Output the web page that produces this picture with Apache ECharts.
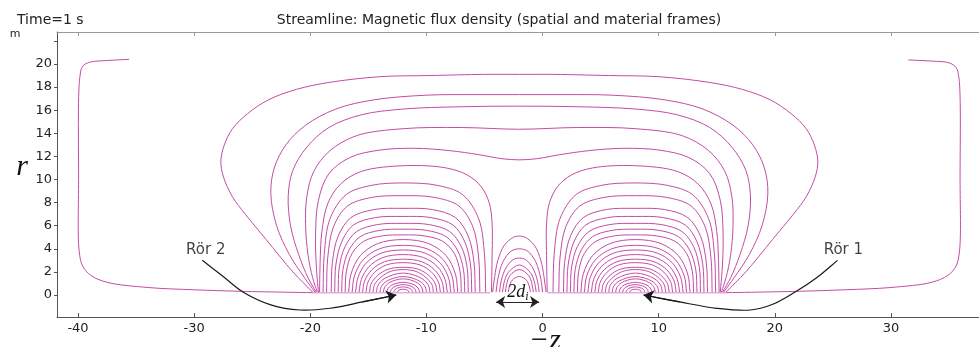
<!DOCTYPE html>
<html><head><meta charset="utf-8">
<script src="https://cdn.jsdelivr.net/npm/echarts@6/dist/echarts.min.js"></script>
<style>html,body{margin:0;padding:0;background:#fff}#c{width:979px;height:347px}</style>
</head><body><div id="c"></div>
<script>
const zTicks = [-40,-30,-20,-10,0,10,20,30];
const rTicks = [0,2,4,6,8,10,12,14,16,18,20,22];
const rLabels = [0,2,4,6,8,10,12,14,16,18,20];

const outerLines = [
 [[-35.6,20.4],[-37.5,20.3],[-39.0,20.15],[-39.6,19.8],[-39.85,18.8],[-39.95,10],[-39.9,3.8],[-39.6,2.5],[-38.9,1.7],[-37.5,1.1],[-34,0.65],[-30,0.45],[-26,0.32],[-22,0.24],[-19.8,0.2]],
 [[31.5,20.35],[33.5,20.25],[35.0,20.1],[35.6,19.7],[35.85,18.8],[35.95,10],[35.9,3.8],[35.6,2.5],[34.9,1.7],[33.5,1.1],[30,0.65],[26,0.45],[22,0.32],[18,0.24],[15.8,0.2]]
];

const enclosingLoops = [
 [[-19.8,0.25],[-21.5,2.0],[-23.8,4.8],[-25.6,7],[-26.7,8.5],[-27.5,10.3],[-27.7,11.6],[-27.4,13.0],[-26.7,14.4],[-25.4,15.7],[-23.6,16.9],[-21.2,17.8],[-18.4,18.4],[-14,18.9],[-9.7,19.0],[-5,19.1],[-2,19.1],[1,19.1],[5.7,19.0],[10,18.9],[14.4,18.4],[17.2,17.8],[19.6,16.9],[21.4,15.7],[22.7,14.4],[23.4,13.0],[23.7,11.6],[23.5,10.3],[22.7,8.5],[21.6,7],[19.8,4.8],[17.5,2.0],[15.8,0.25]],
 [[-19.6,0.25],[-20.5,1.5],[-21.8,3.5],[-22.9,6],[-23.4,8.8],[-23.1,11],[-22.1,13],[-20.4,14.7],[-17.8,16.1],[-14.5,16.9],[-10,17.3],[-6,17.35],[-2,17.35],[2,17.35],[6,17.3],[10.5,16.9],[13.8,16.1],[16.4,14.7],[18.1,13],[19.1,11],[19.4,8.8],[18.9,6],[17.8,3.5],[16.5,1.5],[15.6,0.25]],
 [[-19.5,0.25],[-20.2,1.5],[-21.0,3.5],[-21.7,6],[-21.9,8.6],[-21.5,10.8],[-20.3,12.8],[-18.4,14.5],[-15.6,15.6],[-12,16.1],[-7,16.3],[-2,16.35],[3,16.3],[8,16.1],[11.6,15.6],[14.4,14.5],[16.3,12.8],[17.5,10.8],[17.9,8.6],[17.7,6],[17.0,3.5],[16.2,1.5],[15.5,0.25]],
 [[-19.4,0.25],[-19.8,1.5],[-20.2,3.5],[-20.4,6],[-20.3,8.5],[-19.7,10.7],[-18.3,12.5],[-16,13.8],[-12,14.4],[-7,14.5],[-2,14.35],[3,14.5],[8,14.4],[12,13.8],[14.3,12.5],[15.7,10.7],[16.3,8.5],[16.4,6],[16.2,3.5],[15.8,1.5],[15.4,0.25]],
 [[-19.3,0.25],[-19.45,2],[-19.55,5],[-19.3,8.2],[-18.4,10.5],[-16.6,11.9],[-14,12.55],[-11,12.7],[-8,12.5],[-5.5,12.15],[-3.5,11.8],[-2,11.7],[-0.5,11.8],[1.5,12.15],[4,12.5],[7,12.7],[10,12.55],[12.6,11.9],[14.4,10.5],[15.3,8.2],[15.55,5],[15.45,2],[15.3,0.25]]
];

const leftCoilArches = [
 [[-19.2,0.25],[-19.15,3],[-19.0,5.5],[-18.5,7.9],[-17.4,9.6],[-15.6,10.7],[-11.8,11.2],[-8.3,11.0],[-6.5,10.4],[-5.3,9.4],[-4.6,8.0],[-4.35,6.3],[-4.35,3],[-4.4,0.25]],
 [[-18.9,0.25],[-18.8,3.5],[-18.3,6.6],[-16.9,8.7],[-14.7,9.5],[-11.9,9.7],[-9.1,9.5],[-6.9,8.7],[-5.5,6.6],[-5.0,3.5],[-4.9,0.25]],
 [[-18.6,0.25],[-18.5,3.2],[-18.0,5.9],[-16.8,7.7],[-14.7,8.45],[-12,8.6],[-9.3,8.45],[-7.2,7.7],[-6.0,5.9],[-5.5,3.2],[-5.4,0.25]],
 [[-18.2,0.25],[-18.1,2.8],[-17.6,5.1],[-16.5,6.7],[-14.5,7.4],[-12,7.5],[-9.5,7.4],[-7.5,6.7],[-6.4,5.1],[-5.9,2.8],[-5.8,0.25]],
 [[-17.9,0.25],[-17.8,2.6],[-17.3,4.6],[-16.3,6.05],[-14.4,6.7],[-12,6.8],[-9.6,6.7],[-7.7,6.05],[-6.7,4.6],[-6.2,2.6],[-6.1,0.25]],
 [[-17.6,0.25],[-17.5,2.4],[-17.0,4.2],[-16.0,5.5],[-14.2,6.1],[-12,6.2],[-9.8,6.1],[-8.0,5.5],[-7.0,4.2],[-6.5,2.4],[-6.4,0.25]],
 [[-17.3,0.25],[-17.19,2.2],[-16.66,3.9],[-15.7,5.05],[-14.0,5.6],[-12,5.7],[-10.0,5.6],[-8.3,5.05],[-7.34,3.9],[-6.81,2.2],[-6.7,0.25]],
 [[-17,0.25],[-16.9,2.0],[-16.4,3.6],[-15.4,4.65],[-13.8,5.12],[-12,5.2],[-10.2,5.12],[-8.6,4.65],[-7.6,3.6],[-7.1,2.0],[-7,0.25]],
 [[-16.7,0.25],[-16.5,1.8],[-15.7,3.4],[-14.2,4.45],[-12,4.8],[-9.8,4.45],[-8.3,3.4],[-7.5,1.8],[-7.3,0.25]],
 [[-16.4,0.25],[-16.2,1.65],[-15.45,3.05],[-14.05,4.0],[-12,4.3],[-9.95,4.0],[-8.55,3.05],[-7.8,1.65],[-7.6,0.25]],
 [[-16.1,0.25],[-15.9,1.5],[-15.2,2.75],[-13.9,3.62],[-12,3.9],[-10.1,3.62],[-8.8,2.75],[-8.1,1.5],[-7.9,0.25]],
 [[-15.8,0.25],[-15.6,1.35],[-14.95,2.45],[-13.75,3.24],[-12,3.5],[-10.25,3.24],[-9.05,2.45],[-8.4,1.35],[-8.2,0.25]],
 [[-15.5,0.25],[-15.33,1.2],[-14.7,2.18],[-13.6,2.88],[-12,3.1],[-10.4,2.88],[-9.3,2.18],[-8.67,1.2],[-8.5,0.25]],
 [[-15.2,0.25],[-15.04,1.1],[-14.45,1.97],[-13.45,2.6],[-12,2.8],[-10.55,2.6],[-9.55,1.97],[-8.96,1.1],[-8.8,0.25]],
 [[-14.9,0.25],[-14.76,0.98],[-14.2,1.7],[-13.3,2.23],[-12,2.4],[-10.7,2.23],[-9.8,1.7],[-9.24,0.98],[-9.1,0.25]],
 [[-14.6,0.25],[-14.47,0.9],[-13.9,1.56],[-13.1,2.04],[-12,2.2],[-10.9,2.04],[-10.1,1.56],[-9.53,0.9],[-9.4,0.25]],
 [[-14.3,0.25],[-14.19,0.8],[-13.63,1.41],[-12,1.9],[-10.37,1.41],[-9.81,0.8],[-9.7,0.25]],
 [[-14,0.25],[-13.9,0.7],[-13.42,1.2],[-12,1.6],[-10.58,1.2],[-10.1,0.7],[-10,0.25]],
 [[-13.7,0.25],[-13.62,0.62],[-13.21,1.06],[-12,1.4],[-10.79,1.06],[-10.38,0.62],[-10.3,0.25]],
 [[-13.4,0.25],[-13.33,0.52],[-12.99,0.85],[-12,1.1],[-11.01,0.85],[-10.67,0.52],[-10.6,0.25]],
 [[-13.1,0.25],[-13.05,0.45],[-12.78,0.71],[-12,0.9],[-11.22,0.71],[-10.95,0.45],[-10.9,0.25]],
 [[-12.8,0.25],[-12.76,0.39],[-12.57,0.57],[-12,0.7],[-11.43,0.57],[-11.24,0.39],[-11.2,0.25]],
 [[-12.5,0.25],[-12.36,0.43],[-12,0.5],[-11.64,0.43],[-11.5,0.25]]
];

const rightCoilArches = [
 [[0.4,0.25],[0.35,3],[0.35,6.3],[0.6,8.0],[1.3,9.4],[2.5,10.4],[4.3,11.0],[7.8,11.2],[11.6,10.7],[13.4,9.6],[14.5,7.9],[15.0,5.5],[15.15,3],[15.2,0.25]],
 [[14.9,0.25],[14.8,3.5],[14.3,6.6],[12.9,8.7],[10.7,9.5],[7.9,9.7],[5.1,9.5],[2.9,8.7],[1.5,6.6],[1.0,3.5],[0.9,0.25]],
 [[14.6,0.25],[14.5,3.2],[14.0,5.9],[12.8,7.7],[10.7,8.45],[8,8.6],[5.3,8.45],[3.2,7.7],[2.0,5.9],[1.5,3.2],[1.4,0.25]],
 [[14.2,0.25],[14.1,2.8],[13.6,5.1],[12.5,6.7],[10.5,7.4],[8,7.5],[5.5,7.4],[3.5,6.7],[2.4,5.1],[1.9,2.8],[1.8,0.25]],
 [[13.9,0.25],[13.8,2.6],[13.3,4.6],[12.3,6.05],[10.4,6.7],[8,6.8],[5.6,6.7],[3.7,6.05],[2.7,4.6],[2.2,2.6],[2.1,0.25]],
 [[13.6,0.25],[13.5,2.4],[13.0,4.2],[12.0,5.5],[10.2,6.1],[8,6.2],[5.8,6.1],[4.0,5.5],[3.0,4.2],[2.5,2.4],[2.4,0.25]],
 [[13.3,0.25],[13.19,2.2],[12.66,3.9],[11.7,5.05],[10.0,5.6],[8,5.7],[6.0,5.6],[4.3,5.05],[3.34,3.9],[2.81,2.2],[2.7,0.25]],
 [[13,0.25],[12.9,2.0],[12.4,3.6],[11.4,4.65],[9.8,5.12],[8,5.2],[6.2,5.12],[4.6,4.65],[3.6,3.6],[3.1,2.0],[3,0.25]],
 [[12.7,0.25],[12.5,1.8],[11.7,3.4],[10.2,4.45],[8,4.8],[5.8,4.45],[4.3,3.4],[3.5,1.8],[3.3,0.25]],
 [[12.4,0.25],[12.2,1.65],[11.45,3.05],[10.05,4.0],[8,4.3],[5.95,4.0],[4.55,3.05],[3.8,1.65],[3.6,0.25]],
 [[12.1,0.25],[11.9,1.5],[11.2,2.75],[9.9,3.62],[8,3.9],[6.1,3.62],[4.8,2.75],[4.1,1.5],[3.9,0.25]],
 [[11.8,0.25],[11.6,1.35],[10.95,2.45],[9.75,3.24],[8,3.5],[6.25,3.24],[5.05,2.45],[4.4,1.35],[4.2,0.25]],
 [[11.5,0.25],[11.33,1.2],[10.7,2.18],[9.6,2.88],[8,3.1],[6.4,2.88],[5.3,2.18],[4.67,1.2],[4.5,0.25]],
 [[11.2,0.25],[11.04,1.1],[10.45,1.97],[9.45,2.6],[8,2.8],[6.55,2.6],[5.55,1.97],[4.96,1.1],[4.8,0.25]],
 [[10.9,0.25],[10.76,0.98],[10.2,1.7],[9.3,2.23],[8,2.4],[6.7,2.23],[5.8,1.7],[5.24,0.98],[5.1,0.25]],
 [[10.6,0.25],[10.47,0.9],[9.9,1.56],[9.1,2.04],[8,2.2],[6.9,2.04],[6.1,1.56],[5.53,0.9],[5.4,0.25]],
 [[10.3,0.25],[10.19,0.8],[9.63,1.41],[8,1.9],[6.37,1.41],[5.81,0.8],[5.7,0.25]],
 [[10,0.25],[9.9,0.7],[9.42,1.2],[8,1.6],[6.58,1.2],[6.1,0.7],[6,0.25]],
 [[9.7,0.25],[9.62,0.62],[9.21,1.06],[8,1.4],[6.79,1.06],[6.38,0.62],[6.3,0.25]],
 [[9.4,0.25],[9.33,0.52],[8.99,0.85],[8,1.1],[7.01,0.85],[6.67,0.52],[6.6,0.25]],
 [[9.1,0.25],[9.05,0.45],[8.78,0.71],[8,0.9],[7.22,0.71],[6.95,0.45],[6.9,0.25]],
 [[8.8,0.25],[8.76,0.39],[8.57,0.57],[8,0.7],[7.43,0.57],[7.24,0.39],[7.2,0.25]],
 [[8.5,0.25],[8.36,0.43],[8,0.5],[7.64,0.43],[7.5,0.25]]
];

const middleArches = [
 [[-4.3,0.25],[-4.12,1.6],[-3.85,3.0],[-3.3,4.3],[-2.5,5.0],[-2,5.1],[-1.5,5.0],[-0.7,4.3],[-0.15,3.0],[0.12,1.6],[0.3,0.25]],
 [[-4.0,0.25],[-3.85,1.4],[-3.4,2.9],[-2.7,3.8],[-2,4.0],[-1.3,3.8],[-0.6,2.9],[-0.15,1.4],[0,0.25]],
 [[-3.7,0.25],[-3.57,1.2],[-3.15,2.35],[-2.55,3.05],[-2,3.2],[-1.45,3.05],[-0.85,2.35],[-0.43,1.2],[-0.3,0.25]],
 [[-3.45,0.25],[-3.33,1.0],[-2.95,1.95],[-2,2.6],[-1.05,1.95],[-0.67,1.0],[-0.55,0.25]],
 [[-3.2,0.25],[-3.1,0.9],[-2.8,1.7],[-2,2.2],[-1.2,1.7],[-0.9,0.9],[-0.8,0.25]],
 [[-2.95,0.25],[-2.87,0.7],[-2.6,1.3],[-2,1.6],[-1.4,1.3],[-1.13,0.7],[-1.05,0.25]]
];

const baseLines = [
 [[-19.8,0.2],[-12,0.2],[-4.5,0.2]],
 [[0.4,0.2],[8,0.2],[15.8,0.2]]
];

const ror2Leader = [[-29.3,3.0],[-27.5,1.6],[-25.8,0.26],[-23.4,-0.85],[-20.9,-1.3],[-18.3,-1.15],[-15.5,-0.6],[-12.6,0.0]];
const ror1Leader = [[25.4,3.0],[23.6,1.5],[21.6,0.17],[19.7,-0.85],[17.9,-1.3],[15.0,-1.15],[11.8,-0.6],[8.7,0.0]];
const gapArrow = [[-4.0,-0.6],[-0.3,-0.6]];
const annotations = [
 {name:'Rör 2', value:[-29.0,3.9]},
 {name:'Rör 1', value:[25.9,3.9]}
];

// Centripetal Catmull-Rom path through pixel points (rendering only)
function splinePath(p){
  const n = p.length;
  if (n < 2) return '';
  let d = 'M' + p[0][0] + ' ' + p[0][1];
  if (n === 2) return d + 'L' + p[1][0] + ' ' + p[1][1];
  const ext = i => {
    if (i < 0) return [2*p[0][0]-p[1][0], 2*p[0][1]-p[1][1]];
    if (i >= n) return [2*p[n-1][0]-p[n-2][0], 2*p[n-1][1]-p[n-2][1]];
    return p[i];
  };
  const dist = (a,b) => Math.sqrt(Math.hypot(a[0]-b[0], a[1]-b[1])) || 1e-6;
  for (let i = 0; i < n-1; i++){
    const P0 = ext(i-1), P1 = p[i], P2 = p[i+1], P3 = ext(i+2);
    const d1 = dist(P0,P1), d2 = dist(P1,P2), d3 = dist(P2,P3);
    const b1 = [0,1].map(k => (d1*d1*P2[k] - d2*d2*P0[k] + (2*d1*d1 + 3*d1*d2 + d2*d2)*P1[k]) / (3*d1*(d1+d2)));
    const b2 = [0,1].map(k => (d3*d3*P1[k] - d2*d2*P3[k] + (2*d3*d3 + 3*d3*d2 + d2*d2)*P2[k]) / (3*d3*(d3+d2)));
    d += 'C' + b1[0] + ' ' + b1[1] + ' ' + b2[0] + ' ' + b2[1] + ' ' + P2[0] + ' ' + P2[1];
  }
  return d;
}

const series = [];
function addGroup(list, color, width, z){
  series.push({
    type:'custom', coordinateSystem:'cartesian2d', clip:true, silent:true, z:z||2,
    data: list.map((pts, i) => [pts[0][0], pts[0][1], i]),
    encode:{x:0, y:1},
    renderItem:(params, api) => {
      const pts = list[api.value(2)].map(q => api.coord(q));
      return {type:'path', shape:{pathData: splinePath(pts)},
        style:{fill:'none', stroke:color, lineWidth:width}};
    }
  });
}
const LINE_COLOR = '#c44ca6';
addGroup(baseLines, '#e6aed8', 1.6, 1);
addGroup(outerLines, LINE_COLOR, 1);
addGroup(enclosingLoops, LINE_COLOR, 1);
addGroup(leftCoilArches, LINE_COLOR, 1);
addGroup(rightCoilArches, LINE_COLOR, 1);
addGroup(middleArches, LINE_COLOR, 1);
addGroup([ror2Leader, ror1Leader], '#1a1a1a', 1.2, 5);
[ror2Leader, ror1Leader].forEach(d => {
  series.push({type:'lines', coordinateSystem:'cartesian2d', silent:true, z:6,
    symbol:['none','arrow'], symbolSize:10,
    lineStyle:{color:'#1a1a1a', width:1.2, opacity:1},
    data:[{coords:[d[d.length-2], d[d.length-1]]}]});
});
series.push({type:'lines', coordinateSystem:'cartesian2d', silent:true, z:6,
  symbol:['arrow','arrow'], symbolSize:9,
  lineStyle:{color:'#222', width:1, opacity:1},
  data:[{coords:gapArrow}]});
series.push({type:'scatter', data:annotations, symbolSize:1, silent:true, z:7,
  itemStyle:{color:'transparent'},
  label:{show:true, position:'inside', formatter:p=>p.name, color:'#111', fontSize:15, fontFamily:'DejaVu Sans'}});

const chart = echarts.init(document.getElementById('c'), null, {renderer:'canvas'});
const X_MIN = -41.81, X_MAX = 37.58, Y_MIN = -1.905, Y_MAX = 22.77;
chart.setOption({
  animation:false,
  backgroundColor:'#fff',
  grid:{left:57, right:0, top:32, bottom:30, containLabel:false},
  xAxis:[
    {type:'value', min:X_MIN, max:X_MAX, position:'bottom',
     axisLine:{show:true, onZero:false, lineStyle:{color:'#555', width:1}},
     axisTick:{show:true, inside:true, length:4, customValues:zTicks, lineStyle:{color:'#555'}},
     axisLabel:{customValues:zTicks, color:'#222', fontSize:13, fontFamily:'DejaVu Sans', margin:5},
     splitLine:{show:false}},
    {type:'value', min:X_MIN, max:X_MAX, position:'top',
     axisLine:{show:true, onZero:false, lineStyle:{color:'#999', width:1}},
     axisTick:{show:true, inside:true, length:4, customValues:zTicks, lineStyle:{color:'#999'}},
     axisLabel:{show:false}, splitLine:{show:false}}
  ],
  yAxis:{type:'value', min:Y_MIN, max:Y_MAX,
     axisLine:{show:true, onZero:false, lineStyle:{color:'#555', width:1}},
     axisTick:{show:true, inside:false, length:3, customValues:rTicks, lineStyle:{color:'#555'}},
     axisLabel:{customValues:rLabels, color:'#222', fontSize:13, fontFamily:'DejaVu Sans', margin:5},
     splitLine:{show:false}},
  graphic:[
    {type:'text', x:17, y:20, style:{text:'Time=1 s', font:'14px "DejaVu Sans"', fill:'#222', align:'left', verticalAlign:'middle'}},
    {type:'text', x:499, y:20, style:{text:'Streamline: Magnetic flux density (spatial and material frames)', font:'14px "DejaVu Sans"', fill:'#222', align:'center', verticalAlign:'middle'}},
    {type:'text', x:15, y:34, style:{text:'m', font:'11px "DejaVu Sans"', fill:'#222', align:'center', verticalAlign:'middle'}},
    {type:'text', x:22, y:167, style:{text:'r', font:'italic 30px "Liberation Serif"', fill:'#111', align:'center', verticalAlign:'middle'}},
    {type:'text', x:545, y:341, style:{text:'\u2212z', font:'italic 30px "Liberation Serif"', fill:'#111', align:'center', verticalAlign:'middle'}},
    {type:'text', x:518, y:292, z:10, style:{text:'{a|2d}{b|i}', fill:'#111', align:'center', verticalAlign:'middle',
      rich:{a:{font:'italic 18px "Liberation Serif"', fill:'#111'}, b:{font:'italic 12px "Liberation Serif"', fill:'#111', padding:[10,0,0,0]}}}}
  ],
  series:series
});
</script></body></html>
